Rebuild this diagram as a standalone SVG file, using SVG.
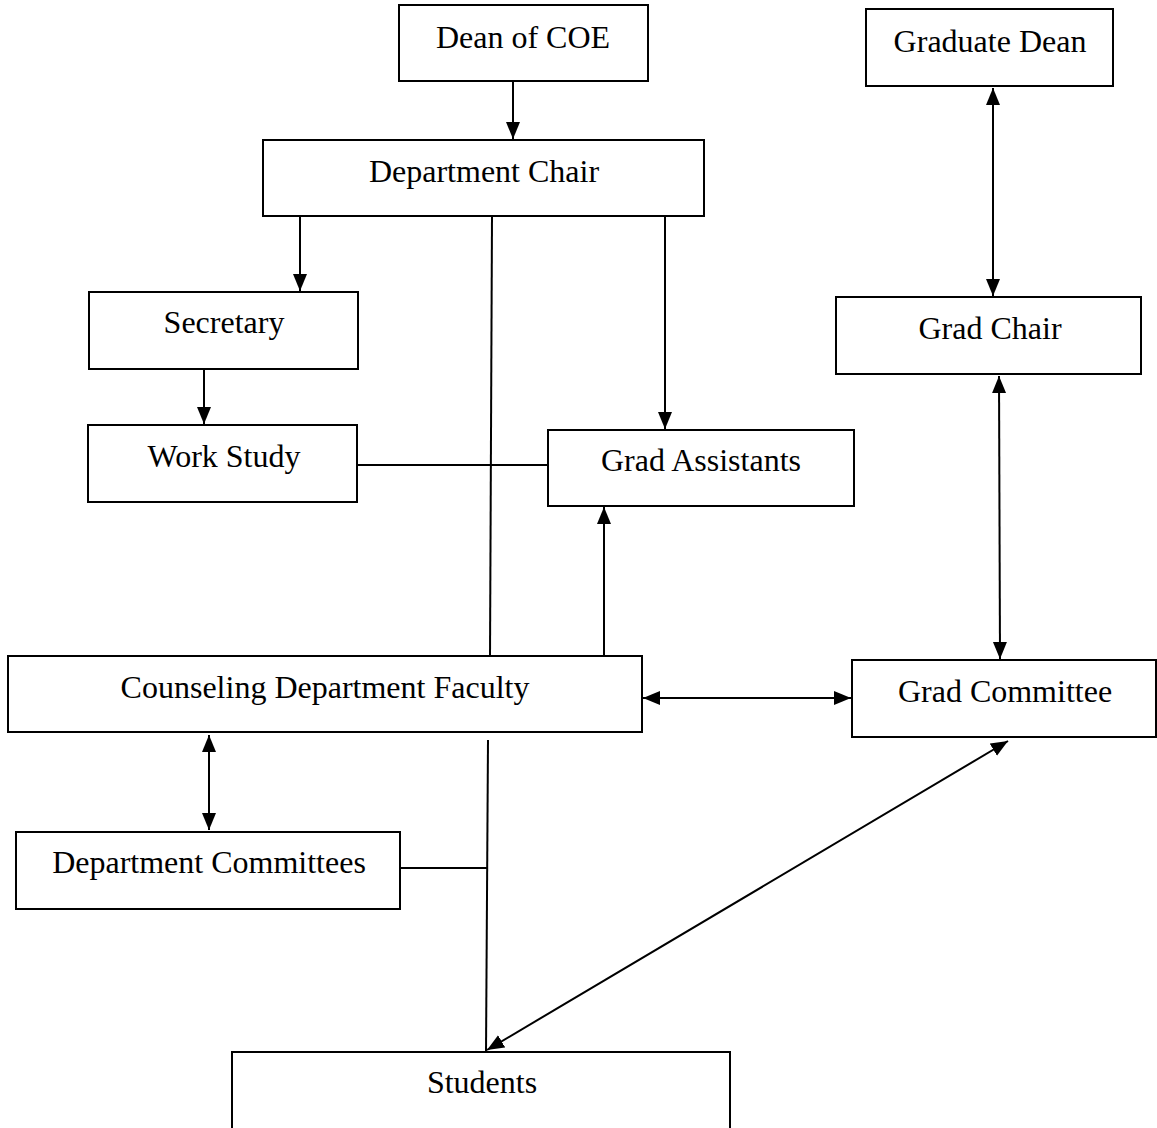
<svg xmlns="http://www.w3.org/2000/svg" width="1157" height="1128" viewBox="0 0 1157 1128">
<style>
.box{fill:#fff;stroke:#000;stroke-width:2}
.lbl{font-family:"Liberation Serif","Times New Roman",serif;font-size:32px;fill:#000;text-anchor:middle}
.ln{stroke:#000;stroke-width:2;fill:none}
</style>
<defs>
<marker id="ah" markerUnits="userSpaceOnUse" markerWidth="18" markerHeight="16" refX="17" refY="8" orient="auto-start-reverse" viewBox="0 0 18 16">
<path d="M0,1 L17,8 L0,15 z" fill="#000"/>
</marker>
</defs>
<rect width="1157" height="1128" fill="#fff"/>
<g id="connectors">
<line class="ln" x1="513" y1="81" x2="513" y2="139" marker-end="url(#ah)"/>
<line class="ln" x1="300" y1="216" x2="300" y2="291" marker-end="url(#ah)"/>
<line class="ln" x1="665" y1="216" x2="665" y2="429" marker-end="url(#ah)"/>
<line class="ln" x1="492" y1="216" x2="490" y2="656"/>
<line class="ln" x1="204" y1="369" x2="204" y2="424" marker-end="url(#ah)"/>
<line class="ln" x1="357" y1="465" x2="548" y2="465"/>
<line class="ln" x1="604" y1="656" x2="604" y2="507" marker-end="url(#ah)"/>
<line class="ln" x1="993" y1="88" x2="993" y2="296" marker-start="url(#ah)" marker-end="url(#ah)"/>
<line class="ln" x1="999" y1="376" x2="1000" y2="659" marker-start="url(#ah)" marker-end="url(#ah)"/>
<line class="ln" x1="643" y1="698" x2="851" y2="698" marker-start="url(#ah)" marker-end="url(#ah)"/>
<line class="ln" x1="209" y1="735" x2="209" y2="830" marker-start="url(#ah)" marker-end="url(#ah)"/>
<line class="ln" x1="488" y1="740" x2="486" y2="1052"/>
<line class="ln" x1="400" y1="868" x2="487" y2="868"/>
<line class="ln" x1="487" y1="1050" x2="1008" y2="741" marker-start="url(#ah)" marker-end="url(#ah)"/>
</g>
<g id="dean-coe"><rect class="box" x="399" y="5" width="249" height="76"/><text class="lbl" x="523" y="48">Dean of COE</text></g>
<g id="graduate-dean"><rect class="box" x="866" y="9" width="247" height="77"/><text class="lbl" x="990" y="52">Graduate Dean</text></g>
<g id="department-chair"><rect class="box" x="263" y="140" width="441" height="76"/><text class="lbl" x="484" y="182">Department Chair</text></g>
<g id="secretary"><rect class="box" x="89" y="292" width="269" height="77"/><text class="lbl" x="224" y="333">Secretary</text></g>
<g id="grad-chair"><rect class="box" x="836" y="297" width="305" height="77"/><text class="lbl" x="990" y="339">Grad Chair</text></g>
<g id="work-study"><rect class="box" x="88" y="425" width="269" height="77"/><text class="lbl" x="224" y="467">Work Study</text></g>
<g id="grad-assistants"><rect class="box" x="548" y="430" width="306" height="76"/><text class="lbl" x="701" y="471">Grad Assistants</text></g>
<g id="faculty"><rect class="box" x="8" y="656" width="634" height="76"/><text class="lbl" x="325" y="698">Counseling Department Faculty</text></g>
<g id="grad-committee"><rect class="box" x="852" y="660" width="304" height="77"/><text class="lbl" x="1005" y="702">Grad Committee</text></g>
<g id="dept-committees"><rect class="box" x="16" y="832" width="384" height="77"/><text class="lbl" x="209" y="873">Department Committees</text></g>
<g id="students"><rect class="box" x="232" y="1052" width="498" height="80"/><text class="lbl" x="482" y="1093">Students</text></g>
</svg>
